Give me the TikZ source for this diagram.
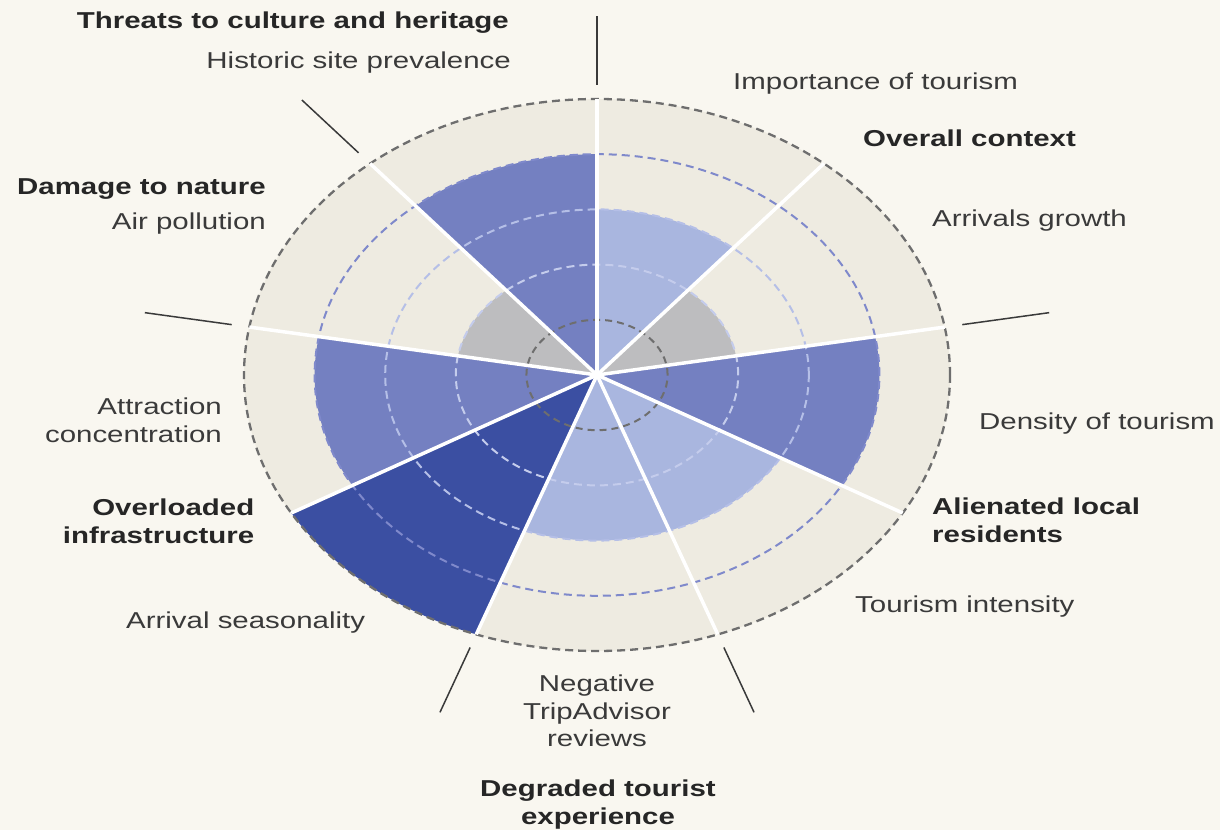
\documentclass[tikz,border=0pt]{standalone}
\usepackage{fontspec}
\setmainfont{Liberation Sans}[FakeStretch=1.28]
\definecolor{bg}{HTML}{F9F7F0}
\definecolor{disk}{HTML}{EEEBE1}
\definecolor{medb}{HTML}{7480C1}
\definecolor{lightb}{HTML}{A9B6DF}
\definecolor{darkb}{HTML}{3B4FA2}
\definecolor{greyw}{HTML}{BDBDBF}
\definecolor{ringdark}{HTML}{6E6E6E}
\definecolor{ringblue}{HTML}{7F89CB}
\definecolor{ringlight}{HTML}{B5BFE7}
\definecolor{ringpale}{HTML}{C4CCEC}
\definecolor{txt}{HTML}{3A3A3A}
\definecolor{txtb}{HTML}{262626}
\begin{document}
\begin{tikzpicture}[x=1pt,y=1pt,
  lbl/.style={inner sep=0pt, text=txt, font=\fontsize{23}{27.5}\selectfont},
  hdr/.style={inner sep=0pt, text=txtb, font=\fontsize{23}{27.5}\selectfont\bfseries},
  ring/.style={line width=2pt, dash pattern=on 8pt off 5pt},
  sep/.style={white, line width=3.5pt},
  tickline/.style={txt, line width=1.5pt}]
\fill[bg] (0,0) rectangle (1220,830);
\useasboundingbox (0,0) rectangle (1220,830);
\begin{scope}[shift={(597,455)}, xscale=1.279]
  \fill[disk] (0,0) circle[radius=276pt];
  \foreach \a/\r/\c in {90/4/medb, 50/3/lightb, 10/2/greyw, -30/4/medb, -70/3/lightb, -110/3/lightb, -150/5/darkb, 170/4/medb, 130/2/greyw}{
    \fill[\c] (0,0) -- (\a:\r*55.2pt) arc[start angle=\a, end angle=\a+40, radius=\r*55.2pt] -- cycle;
  }
  \draw[ring, ringpale] (0,0) circle[radius=110.4pt];
  \draw[ring, ringlight] (0,0) circle[radius=165.6pt];
  \draw[ring, ringblue] (0,0) circle[radius=220.8pt];
  \draw[ring, ringdark, line width=2.3pt] (0,0) circle[radius=276pt];
  \draw[ring, ringdark, dash pattern=on 7pt off 5pt] (0,0) circle[radius=55.2pt];
  \foreach \a in {90,50,10,-30,-70,-110,-150,170,130}{
    \draw[sep] (0,0) -- (\a:276pt);
  }
  \foreach \a in {90,10,-70,-110,170,130}{
    \draw[tickline] (\a:290pt) -- (\a:359pt);
  }
\end{scope}
% labels
\node[hdr, anchor=base east] (threats) at (509,801.7) {Threats to culture and heritage};
\node[lbl, anchor=base east] (historic) at (511,761.7) {Historic site prevalence};
\node[hdr, anchor=base east] (nature) at (266,635) {Damage to nature};
\node[lbl, anchor=base east] (air) at (266,600) {Air pollution};
\node[lbl, anchor=base west] (importance) at (733,740) {Importance of tourism};
\node[hdr, anchor=base west] (overall) at (863,683.3) {Overall context};
\node[lbl, anchor=base west] (arrivals) at (932,603.3) {Arrivals growth};
\node[lbl, anchor=base west] (density) at (979,400.7) {Density of tourism};
\node[hdr, anchor=north west, align=left] (alienated) at (932,332) {Alienated local\\residents};
\node[lbl, anchor=base west] (intensity) at (855,217.3) {Tourism intensity};
\node[lbl, anchor=north, align=center] (negative) at (597,155) {Negative\\TripAdvisor\\reviews};
\node[hdr, anchor=north, align=center] (degraded) at (598,50) {Degraded tourist\\experience};
\node[lbl, anchor=north east, align=right] (attraction) at (222,432) {Attraction\\concentration};
\node[hdr, anchor=north east, align=right] (overloaded) at (254.5,331) {Overloaded\\infrastructure};
\node[lbl, anchor=base west] (seasonality) at (126,201.7) {Arrival seasonality};
\end{tikzpicture}
\end{document}
